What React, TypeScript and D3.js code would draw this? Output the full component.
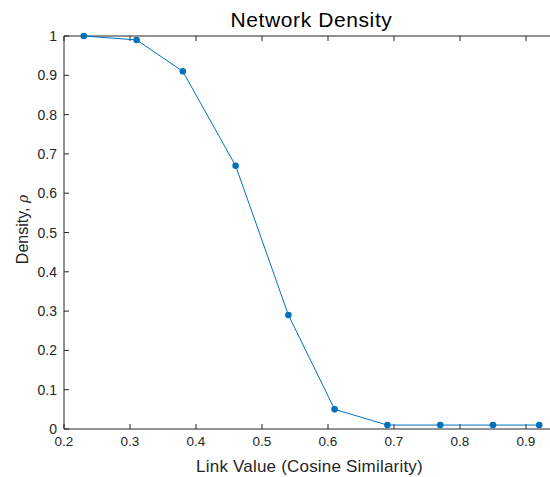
import React from "react";
import * as d3 from "d3";

const linkValues = [0.23, 0.31, 0.38, 0.46, 0.54, 0.61, 0.69, 0.77, 0.85, 0.92];
const densityValues = [1, 0.99, 0.91, 0.67, 0.29, 0.05, 0.01, 0.01, 0.01, 0.01];
const xTicks = [0.2, 0.3, 0.4, 0.5, 0.6, 0.7, 0.8, 0.9];
const yTicks = [0, 0.1, 0.2, 0.3, 0.4, 0.5, 0.6, 0.7, 0.8, 0.9, 1];

const W = 550;
const H = 477;
const left = 64;
const right = 559;
const top = 36;
const bottom = 429;
const font = "'Liberation Sans', Arial, Helvetica, sans-serif";
const axisColor = "#262626";
const lineColor = "#0072BD";

export default function App() {
  const x = d3.scaleLinear().domain([0.2, 0.95]).range([left, right]);
  const y = d3.scaleLinear().domain([0, 1]).range([bottom, top]);
  const pts = linkValues.map((v, i) => [v, densityValues[i]] as [number, number]);
  const line = d3
    .line<[number, number]>()
    .x((d) => x(d[0]))
    .y((d) => y(d[1]));
  const tl = 5;
  return (
    <svg
      width={W}
      height={H}
      style={{ position: "absolute", left: 0, top: 0, background: "#fff" }}
    >
      <rect x={0} y={0} width={W} height={H} fill="#fff" />
      <line x1={left} x2={right} y1={bottom} y2={bottom} stroke={axisColor} strokeWidth={1} />
      <line x1={left} x2={right} y1={top} y2={top} stroke={axisColor} strokeWidth={1} />
      <line x1={left} x2={left} y1={top} y2={bottom} stroke={axisColor} strokeWidth={1} />
      <line x1={right} x2={right} y1={top} y2={bottom} stroke={axisColor} strokeWidth={1} />
      {xTicks.map((t) => (
        <g key={"x" + t}>
          <line x1={x(t)} x2={x(t)} y1={bottom} y2={bottom - tl} stroke={axisColor} />
          <line x1={x(t)} x2={x(t)} y1={top} y2={top + tl} stroke={axisColor} />
          <text
            x={x(t)}
            y={bottom + 17}
            textAnchor="middle"
            fontFamily={font}
            fontSize={13.5}
            fill={axisColor}
          >
            {d3.format("")(t)}
          </text>
        </g>
      ))}
      {yTicks.map((t) => (
        <g key={"y" + t}>
          <line x1={left} x2={left + tl} y1={y(t)} y2={y(t)} stroke={axisColor} />
          <line x1={right} x2={right - tl} y1={y(t)} y2={y(t)} stroke={axisColor} />
          <text
            x={left - 7}
            y={y(t) + 5}
            textAnchor="end"
            fontFamily={font}
            fontSize={14}
            fill={axisColor}
          >
            {d3.format("")(t)}
          </text>
        </g>
      ))}
      <path d={line(pts) || ""} fill="none" stroke={lineColor} strokeWidth={1} />
      {pts.map((p, i) => (
        <circle key={i} cx={x(p[0])} cy={y(p[1])} r={3.3} fill={lineColor} />
      ))}
      <text
        x={(left + right) / 2}
        y={27}
        textAnchor="middle"
        fontFamily={font}
        fontSize={21}
        letterSpacing={0.6}
        fill="#000"
      >
        Network Density
      </text>
      <text
        x={(left + right) / 2 - 2}
        y={472}
        textAnchor="middle"
        fontFamily={font}
        fontSize={17}
        letterSpacing={0.2}
        fill={axisColor}
      >
        Link Value (Cosine Similarity)
      </text>
      <text
        transform={`translate(28, ${(top + bottom) / 2 - 3}) rotate(-90)`}
        textAnchor="middle"
        fontFamily={font}
        fontSize={16}
        fill={axisColor}
      >
        Density,{" "}
        <tspan fontFamily="'DejaVu Serif', serif" fontStyle="italic" fontSize={14}>
          ρ
        </tspan>
      </text>
    </svg>
  );
}
